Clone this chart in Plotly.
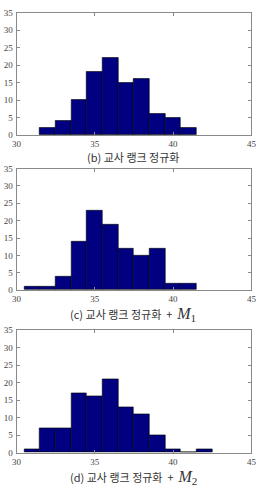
import plotly.graph_objects as go

# Data
bin_centers_b = [32, 33, 34, 35, 36, 37, 38, 39, 40, 41]
counts_b = [2, 4, 10, 18, 22, 15, 16, 6, 5, 2]

bin_centers_c = [31, 32, 33, 34, 35, 36, 37, 38, 39, 40, 41]
counts_c = [1, 1, 4, 14, 23, 19, 12, 10, 12, 2, 2]

bin_centers_d = [31, 32, 33, 34, 35, 36, 37, 38, 39, 40, 41, 42]
counts_d = [1, 7, 7, 17, 16, 21, 13, 11, 5, 1, 0, 1]

x_ticks = [30, 35, 40, 45]
y_ticks = [0, 5, 10, 15, 20, 25, 30, 35]

captions = [
    "(b) 교사 랭크 정규화",
    "(c) 교사 랭크 정규화&nbsp;&nbsp;+&nbsp;&nbsp;<span style=\"font-family:'Liberation Serif';font-size:16px\"><i>M</i><sub>1</sub></span>",
    "(d) 교사 랭크 정규화&nbsp;&nbsp;+&nbsp;&nbsp;<span style=\"font-family:'Liberation Serif';font-size:16px\"><i>M</i><sub>2</sub></span>",
]

W, H = 266, 493
panels_px = [(8, 133), (167, 291), (332, 457)]
caption_px = [155, 316, 482]
x_px = (12, 256)

fig = go.Figure()
series = [(bin_centers_b, counts_b), (bin_centers_c, counts_c), (bin_centers_d, counts_d)]
for i, (xs, ys) in enumerate(series):
    n = "" if i == 0 else str(i + 1)
    fig.add_trace(go.Bar(
        x=xs, y=ys, width=1,
        marker=dict(color="#000080", line=dict(color="#000000", width=0.6)),
        xaxis="x" + n, yaxis="y" + n, showlegend=False,
    ))
    top, bot = panels_px[i]
    axis_common = dict(
        showgrid=False, zeroline=False, showline=True, mirror="ticks",
        linecolor="#8a8a8a", linewidth=1, ticks="inside", ticklen=3,
        tickcolor="#8a8a8a", tickfont=dict(family="Liberation Serif", size=9, color="#444444"),
    )
    fig.layout["xaxis" + n] = dict(
        domain=[x_px[0] / W, x_px[1] / W], range=[30, 45], tickvals=x_ticks,
        anchor="y" + n, ticklabelstandoff=0, **axis_common,
    )
    fig.layout["yaxis" + n] = dict(
        domain=[1 - bot / H, 1 - top / H], range=[0, 35], tickvals=y_ticks,
        anchor="x" + n, ticklabelstandoff=1, **axis_common,
    )
    fig.add_annotation(
        text=captions[i], x=0.5, y=1 - caption_px[i] / H, xref="paper", yref="paper",
        showarrow=False, xanchor="center", yanchor="middle",
        font=dict(family="Noto Sans CJK KR", size=11, color="#333333"),
    )

fig.update_layout(
    width=W, height=H, margin=dict(l=0, r=0, t=0, b=0),
    paper_bgcolor="white", plot_bgcolor="white", bargap=0,
)

fig.write_html("out.html")
